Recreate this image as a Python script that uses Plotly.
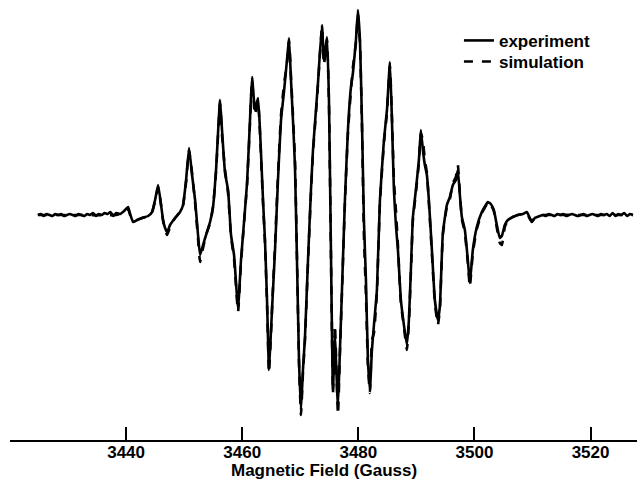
import plotly.graph_objects as go

# ---- data (field in Gauss, intensity in arbitrary units) ----
field_left = [3424.8, 3425.3, 3425.8, 3426.3, 3426.8, 3427.3, 3427.8, 3428.3, 3428.8, 3429.3,
              3429.8, 3430.3, 3430.8, 3431.3, 3431.8, 3432.3, 3432.8, 3433.3, 3433.8, 3434.3,
              3434.8, 3435.3, 3435.8, 3436.3, 3436.8, 3437.3, 3437.8, 3438.3]
exp_left = [0, 1, -1, 1, 0, -1, 1, 0, 1, -1, 0, 1, 0, -1, 1, 0, -1, 1, 0, 2, -1, 1, 0, 2, 1, 3, -1, 2]

field_main = [3438.97, 3439.66, 3440.34, 3440.69, 3441.20, 3441.89, 3442.75, 3443.79, 3444.48, 3444.99,
              3445.51, 3446.02, 3446.37, 3446.71, 3447.06, 3447.57, 3448.43, 3449.29, 3449.81, 3450.33,
              3450.84, 3451.36, 3451.88, 3452.39, 3452.74, 3453.25, 3453.77, 3454.46, 3454.97, 3455.49,
              3456.18, 3456.52, 3457.04, 3457.56, 3458.07, 3458.59, 3459.28, 3459.79, 3460.31, 3460.83,
              3461.34, 3461.69, 3462.20, 3462.72, 3463.06, 3463.58, 3463.92, 3464.27, 3464.61, 3464.96,
              3465.30, 3465.65, 3466.16, 3466.68, 3467.19, 3467.71, 3468.06, 3468.40, 3468.74, 3469.09,
              3469.43, 3469.78, 3470.12, 3470.46, 3470.81, 3471.33, 3471.84, 3472.19, 3472.70, 3473.05,
              3473.73, 3474.08, 3474.60, 3474.94, 3475.28, 3475.63, 3475.97, 3476.49, 3476.83, 3477.18,
              3477.69, 3478.21, 3478.73, 3479.07, 3479.59, 3479.93, 3480.28, 3480.62, 3480.96, 3481.31,
              3481.65, 3482.00, 3482.34, 3482.69, 3483.20, 3483.72, 3484.41, 3484.93, 3485.44, 3485.79,
              3486.13, 3486.47, 3486.82, 3487.33, 3487.85, 3488.36, 3488.71, 3489.05, 3489.40, 3489.91,
              3490.43, 3490.77, 3491.12, 3491.46, 3491.81, 3492.15, 3492.67, 3493.18, 3493.70, 3494.04,
              3494.56, 3495.25, 3495.77, 3496.28, 3496.80, 3497.14, 3497.49, 3497.83, 3498.35, 3498.86,
              3499.21, 3499.72, 3500.41, 3501.27, 3501.96, 3502.31, 3502.82, 3503.34, 3503.86, 3504.37,
              3504.72, 3505.23, 3505.75, 3506.61, 3507.47, 3508.33, 3509.02, 3509.54, 3509.88, 3510.40,
              3511.26]
exp_main = [1, 4, 8, 1, -7, -5, -3, -1, 3, 15,
            30, 10, -5, -13, -17, -10, -3, 3, 10, 35,
            67, 40, 15, -20, -40, -30, -20, -7, 8, 45,
            115, 85, 42, 25, -20, -40, -93, -45, -7, 32,
            95, 138, 105, 117, 85, 15, -25, -85, -155, -115,
            -75, -35, 35, 95, 123, 155, 177, 135, 95, 48,
            -45, -145, -195, -155, -122, -45, 25, 65, 105, 132,
            190, 155, 178, 115, -35, -175, -122, -192, -135, -75,
            15, 85, 128, 142, 175, 205, 175, 95, -5, -65,
            -145, -175, -135, -110, -75, 15, 75, 105, 153, 95,
            25, -10, -35, -85, -110, -130, -105, -55, -2, 25,
            55, 85, 65, 50, 40, 15, -35, -85, -105, -92,
            -18, 10, 18, 30, 35, 45, 20, -2, -15, -45,
            -68, -35, -12, 3, 10, 13, 11, 5, -10, -23,
            -21, -10, -5, -2, 0, 1, 3, -3, -7, -3,
            -1]
sim_main = [1, 3, 6, 0, -5, -5, -3, -1, 3, 14,
            28, 10, -6, -16, -20, -12, -3, 3, 10, 33,
            65, 42, 12, -24, -47, -33, -20, -8, 8, 43,
            112, 80, 45, 22, -22, -44, -97, -48, -8, 30,
            92, 135, 100, 114, 82, 12, -28, -88, -158, -118,
            -72, -30, 40, 100, 130, 152, 175, 138, 100, 55,
            -42, -148, -200, -158, -125, -48, 22, 62, 102, 130,
            188, 150, 176, 112, -38, -178, -110, -200, -138, -78,
            12, 82, 125, 148, 172, 200, 172, 92, -20, -80,
            -150, -178, -125, -118, -78, 12, 72, 102, 150, 98,
            35, 5, -30, -88, -112, -135, -108, -58, -5, 22,
            52, 82, 75, 55, 42, 12, -38, -88, -110, -95,
            -20, 8, 16, 32, 38, 50, 22, -4, -18, -48,
            -72, -38, -14, 2, 9, 13, 10, 4, -13, -28,
            -30, -12, -5, -2, 0, 1, 2, -4, -6, -3,
            -1]

field_right = [3511.8, 3512.3, 3512.8, 3513.3, 3513.8, 3514.3, 3514.8, 3515.3, 3515.8, 3516.3,
               3516.8, 3517.3, 3517.8, 3518.3, 3518.8, 3519.3, 3519.8, 3520.3, 3520.8, 3521.3,
               3521.8, 3522.3, 3522.8, 3523.3, 3523.8, 3524.3, 3524.8, 3525.3, 3525.8, 3526.3,
               3526.8, 3527.3]
exp_right = [0, -1, 1, 0, -1, 1, 0, 1, -1, 0, 1, 0, -1, 0, 1, -1, 0, 1, 0, -1,
             1, 0, 1, -1, 2, -1, 1, 0, 2, -1, 1, 0]

sim_field_left = [3424.8, 3431.0, 3438.3]
sim_left = [0, 0, 0]
sim_field_right = [3511.8, 3519.0, 3527.3]
sim_right = [0, 0, 0]

major_ticks = [3420, 3440, 3460, 3480, 3500, 3520]
major_text = ["", "3440", "3460", "3480", "3500", "3520"]
minor_ticks = [3430, 3450, 3470, 3490, 3510]
x_title = "Magnetic Field (Gauss)"
x_range = [3420, 3528]

FONT = "Liberation Sans, Arial, Helvetica, sans-serif"
BOLD = dict(family=FONT, size=17, color="black", weight="bold")

fig = go.Figure()
fig.add_trace(go.Scatter(
    x=field_left + field_main + field_right,
    y=exp_left + exp_main + exp_right,
    mode="lines", name="experiment", legend="legend",
    line=dict(color="black", width=2.6, shape="spline", smoothing=0.4),
))
fig.add_trace(go.Scatter(
    x=sim_field_left + field_main + sim_field_right,
    y=sim_left + sim_main + sim_right,
    mode="lines", name="simulation", legend="legend2",
    line=dict(color="black", width=2.6, dash="dash", shape="spline", smoothing=0.4),
))

leg_common = dict(xanchor="left", yanchor="top", bgcolor="rgba(0,0,0,0)",
                  borderwidth=0, font=BOLD, tracegroupgap=0)

fig.update_layout(
    width=639, height=479,
    margin=dict(l=10, r=2, t=0, b=39, autoexpand=False),
    paper_bgcolor="white", plot_bgcolor="white",
    font=BOLD,
    showlegend=True,
    legend=dict(x=0.716, y=0.948, **leg_common),
    legend2=dict(x=0.716, y=0.900, **leg_common),
    xaxis=dict(
        range=x_range, showgrid=False, zeroline=False, automargin=False,
        showline=True, linecolor="black", linewidth=2,
        ticks="inside", ticklen=13, tickwidth=2, tickcolor="black",
        tickvals=major_ticks, ticktext=major_text,
        tickfont=BOLD, ticklabelstandoff=-4,
    ),
    xaxis2=dict(
        range=x_range, overlaying="x", side="bottom", anchor="y",
        showgrid=False, zeroline=False, automargin=False, showline=False,
        ticks="inside", ticklen=7, tickwidth=2, tickcolor="black",
        tickvals=minor_ticks, showticklabels=False,
    ),
    yaxis=dict(range=[-225, 215], visible=False, showgrid=False, zeroline=False, automargin=False),
    annotations=[dict(
        text=x_title, xref="paper", yref="paper", x=0.5, y=-(470 - 440) / 440,
        xanchor="center", yanchor="middle", showarrow=False, font=BOLD,
    )],
)

fig.write_html(
    "out.html",
    config={"displayModeBar": False, "staticPlot": True},
    post_script="document.body.style.margin='0';document.body.style.overflow='hidden';",
)
